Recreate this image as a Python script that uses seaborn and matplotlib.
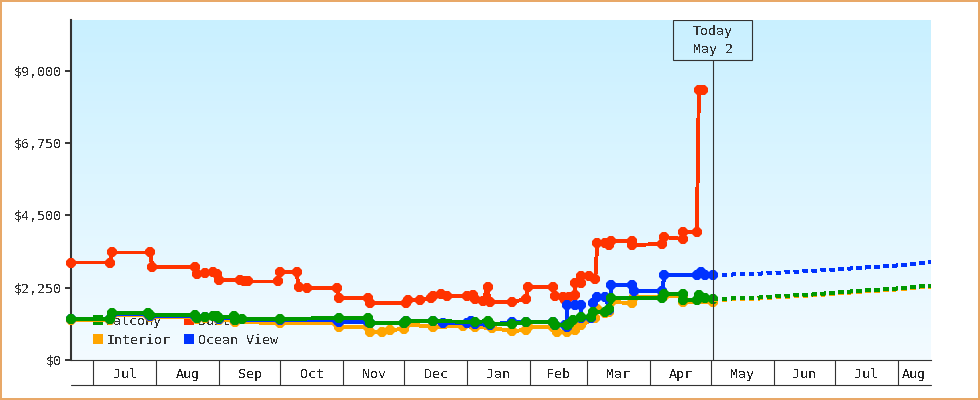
import numpy as np
import pandas as pd
import matplotlib
matplotlib.use("Agg")
import matplotlib.pyplot as plt
import seaborn as sns
from matplotlib.colors import LinearSegmentedColormap
from matplotlib.lines import Line2D
from matplotlib.patches import Rectangle

# days are counted from the left edge of the chart
start_date = pd.Timestamp("2012-06-20")
end_day = 423
today_day = 316

suite_days = [0, 19, 20, 39, 40, 61, 62, 66, 70, 72, 73, 83, 85, 87, 102, 103, 111, 112, 116, 131,
              132, 146, 147, 165, 166, 172, 177, 178, 182, 185, 195, 198, 199, 203, 205, 206, 217,
              224, 225, 237, 238, 242, 243, 245, 248, 248, 251, 251, 255, 258, 259, 263, 265, 266,
              276, 276, 291, 292, 301, 301, 308, 309, 311]
suite_prices = [3036, 3036, 3348, 3348, 2896, 2896, 2678, 2694, 2740, 2678, 2491, 2491, 2460, 2445,
                2445, 2740, 2740, 2273, 2242, 2242, 1931, 1931, 1775, 1775, 1868, 1868, 1931, 1993,
                2055, 1993, 1993, 2024, 1900, 1837, 2273, 1806, 1806, 1900, 2273, 2273, 1993, 1962,
                1868, 1962, 2024, 2398, 2398, 2616, 2616, 2522, 3643, 3643, 3581, 3706, 3706, 3581,
                3612, 3830, 3768, 3986, 3986, 8408, 8408]

balcony_days = [0, 19, 20, 38, 39, 61, 62, 66, 70, 72, 73, 80, 80.5, 84, 103, 132, 146, 147, 164,
                165, 178, 199, 205, 206, 217, 224, 237, 238, 244, 245, 247, 251, 256, 257, 263,
                265, 266, 291, 292, 301, 301, 308, 309, 312, 316]
balcony_prices = [1277, 1277, 1464, 1464, 1401, 1401, 1308, 1339, 1370, 1370, 1308, 1370, 1246, 1277,
                  1277, 1308, 1308, 1152, 1152, 1214, 1214, 1183, 1214, 1121, 1121, 1183, 1183, 1090,
                  1090, 1121, 1246, 1339, 1339, 1495, 1495, 1588, 1931, 1931, 2055, 2055, 1868, 1868,
                  2024, 1931, 1900]

ocean_days = [0, 19, 20, 38, 39, 61, 62, 66, 72, 73, 80, 80.5, 103, 131, 132, 146, 147, 164, 165,
              178, 183, 195, 197, 199, 206, 217, 224, 237, 238, 243, 244, 244, 248, 251, 251, 256,
              257, 259, 263, 265, 266, 276, 277, 291, 292, 308, 310, 312, 316]
ocean_prices = [1277, 1277, 1433, 1433, 1370, 1370, 1308, 1339, 1339, 1277, 1339, 1246, 1246, 1246,
                1183, 1183, 1152, 1152, 1214, 1214, 1152, 1152, 1214, 1121, 1090, 1183, 1183, 1183,
                1090, 1090, 1028, 1713, 1713, 1713, 1308, 1308, 1775, 1962, 1962, 1557, 2336, 2336,
                2149, 2149, 2647, 2647, 2740, 2647, 2647]

interior_days = [0, 19, 20, 38, 39, 61, 62, 66, 72, 73, 80, 80.5, 103, 131, 132, 146, 147, 153, 157,
                 164, 165, 178, 193, 199, 207, 217, 224, 225, 237, 239, 244, 248, 248, 251, 258, 259,
                 263, 265, 266, 276, 277, 291, 292, 301, 301, 316]
interior_prices = [1246, 1246, 1401, 1401, 1339, 1339, 1277, 1308, 1308, 1246, 1246, 1183, 1152, 1152,
                   1028, 1028, 872, 872, 934, 965, 1121, 1028, 1059, 1028, 997, 903, 934, 1028, 1028,
                   872, 872, 934, 1090, 1090, 1308, 1588, 1464, 1495, 1806, 1775, 1962, 1962, 1993,
                   1993, 1806, 1806]

forecast_days = [316, 335, 350, 365, 380, 395, 410, 423]
ocean_forecast = [2647, 2678, 2725, 2771, 2834, 2896, 2958, 3052]
balcony_forecast = [1900, 1931, 1993, 2040, 2118, 2180, 2242, 2320]
interior_forecast = [1870, 1900, 1962, 2010, 2086, 2150, 2212, 2290]

y_ticks = [0, 2250, 4500, 6750, 9000]
y_labels = ["$0", "$2,250", "$4,500", "$6,750", "$9,000"]
legend_names = ["Balcony", "Interior", "Suite", "Ocean View"]
colors = {"Balcony": "#009900", "Suite": "#ff3300", "Interior": "#ffa500", "Ocean View": "#0033ff"}
ink = "#333333"

sns.set_style("white")
plt.rcParams["font.family"] = ["DejaVu Sans Mono"]
plt.rcParams["font.size"] = 9.6
plt.rcParams["text.antialiased"] = False

history = pd.concat([
    pd.DataFrame({"day": suite_days, "price": suite_prices, "cabin": "Suite"}),
    pd.DataFrame({"day": interior_days, "price": interior_prices, "cabin": "Interior"}),
    pd.DataFrame({"day": ocean_days, "price": ocean_prices, "cabin": "Ocean View"}),
    pd.DataFrame({"day": balcony_days, "price": balcony_prices, "cabin": "Balcony"}),
])
forecast = pd.concat([
    pd.DataFrame({"day": forecast_days, "price": interior_forecast, "cabin": "Interior"}),
    pd.DataFrame({"day": forecast_days, "price": ocean_forecast, "cabin": "Ocean View"}),
    pd.DataFrame({"day": forecast_days, "price": balcony_forecast, "cabin": "Balcony"}),
])

fig = plt.figure(figsize=(9.8, 4), dpi=100, facecolor="white", edgecolor="#e8a868", linewidth=1.5)
ax = fig.add_axes([71 / 980, 40 / 400, 859.5 / 980, 340 / 400])

y_top = 10588
sky = LinearSegmentedColormap.from_list("sky", ["#f3fbff", "#c9f0ff"])
ax.imshow(np.linspace(0, 1, 256).reshape(-1, 1), cmap=sky, origin="lower", aspect="auto",
          extent=(0, end_day, 0, y_top), zorder=0)

sns.lineplot(data=history, x="day", y="price", hue="cabin", palette=colors,
             hue_order=["Suite", "Interior", "Ocean View", "Balcony"], estimator=None, sort=False,
             marker="8", markersize=8, markeredgewidth=0, linewidth=2.1, clip_on=False,
             antialiased=False, legend=False, ax=ax, zorder=3)
sns.lineplot(data=forecast, x="day", y="price", hue="cabin", palette=colors,
             hue_order=["Interior", "Ocean View", "Balcony"], estimator=None, sort=False,
             linewidth=2.1, linestyle=(0, (1.7, 1.7)), antialiased=False, legend=False, ax=ax, zorder=3)

ax.set_xlim(0, end_day)
ax.set_ylim(0, y_top)
ax.set_xlabel("")
ax.set_ylabel("")

# months along the bottom, last one is cut off by the chart edge
month_starts = pd.date_range(start_date, periods=15, freq="MS")
edges = [(m - start_date).days for m in month_starts if (m - start_date).days < end_day]
centers = [(a + b) / 2 for a, b in zip(edges, edges[1:] + [end_day])]
ax.set_xticks(edges)
ax.set_xticklabels([])
ax.set_xticks(centers, minor=True)
ax.set_xticklabels([m.strftime("%b") for m in month_starts[:len(edges)]], minor=True)
ax.tick_params(axis="x", which="major", length=18, width=0.8, color=ink, bottom=True)
ax.tick_params(axis="x", which="minor", length=0, pad=6, labelcolor="#222222", bottom=True)
ax.plot([0, 1], [-25 / 340, -25 / 340], transform=ax.transAxes, color=ink, lw=0.8, clip_on=False)

ax.set_yticks(y_ticks)
ax.set_yticklabels(y_labels)
ax.tick_params(axis="y", length=4.5, width=1.4, color=ink, labelcolor=ink, pad=2, left=True)

sns.despine(ax=ax)
ax.spines["left"].set_linewidth(1.5)
ax.spines["left"].set_color(ink)
ax.spines["bottom"].set_linewidth(0.8)
ax.spines["bottom"].set_color(ink)

# today marker with its box
ax.axvline(today_day, ymin=0, ymax=300 / 340, color=ink, lw=0.8, zorder=4)
ax.add_patch(Rectangle((today_day - 19.7, 300 / 340), 39, 40 / 340, transform=ax.get_xaxis_transform(),
                       facecolor="none", edgecolor=ink, lw=0.8, zorder=4))
ax.text(today_day, 319.5 / 340, "Today\nMay 2", transform=ax.get_xaxis_transform(), ha="center", va="center",
        color=ink, linespacing=1.5, zorder=5)

handles = [Line2D([], [], linestyle="none", marker="s", markersize=7.2, markeredgewidth=0, color=colors[n])
           for n in legend_names]
leg = ax.legend(handles, legend_names, ncol=2, frameon=False, loc="upper left",
                bbox_to_anchor=(22 / 860, 45 / 340), borderpad=0, borderaxespad=0, handlelength=0.75,
                handletextpad=0.25, columnspacing=1.05, labelspacing=0.45, labelcolor=ink)
leg.set_zorder(1.5)

fig.savefig("out.png", dpi=100, facecolor=fig.get_facecolor(), edgecolor=fig.get_edgecolor())
